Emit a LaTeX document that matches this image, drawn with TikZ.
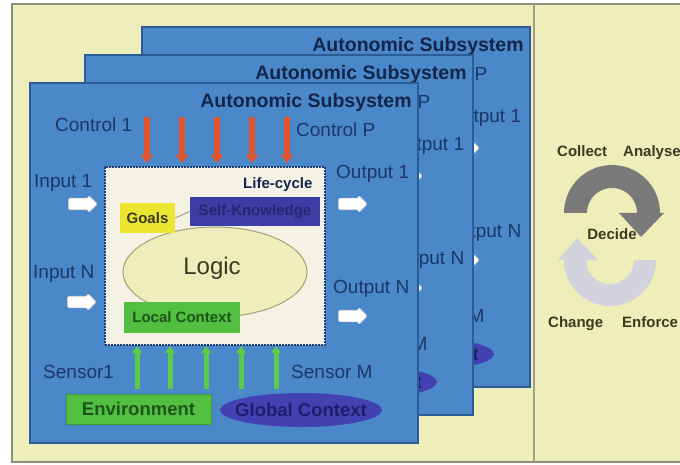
\documentclass[tikz,border=0pt]{standalone}
\usepackage{fontspec}
\setmainfont{Liberation Sans}
\usetikzlibrary{arrows.meta,shapes.arrows,shapes.geometric}
\definecolor{bgY}{HTML}{EEEEBA}
\definecolor{frameG}{HTML}{8E8E7A}
\definecolor{panelB}{HTML}{4A88C9}
\definecolor{panelE}{HTML}{2C5C96}
\definecolor{navy}{HTML}{1B3768}
\definecolor{titleC}{HTML}{13254A}
\definecolor{redA}{HTML}{E0552E}
\definecolor{greenA}{HTML}{5CCB4A}
\definecolor{boxW}{HTML}{F4F2E4}
\definecolor{dotB}{HTML}{1F3F78}
\definecolor{skB}{HTML}{3D3DA6}
\definecolor{skT}{HTML}{26266E}
\definecolor{goalY}{HTML}{ECE633}
\definecolor{greenB}{HTML}{52BF40}
\definecolor{greenT}{HTML}{1C561C}
\definecolor{logicF}{HTML}{EEEEBC}
\definecolor{logicE}{HTML}{A3A276}
\definecolor{gcB}{HTML}{4242B2}
\definecolor{gcT}{HTML}{1E1E6C}
\definecolor{olive}{HTML}{3A3A22}
\definecolor{darkArc}{HTML}{7A7A7A}
\definecolor{lightArc}{HTML}{D3D3DD}
\tikzset{
  lbl/.style={font=\fontsize{19}{21}\selectfont, text=navy, inner sep=0pt, anchor=base west},
  ttl/.style={font=\bfseries\fontsize{19.5}{22}\selectfont, text=titleC, inner sep=0pt, anchor=base},
  ioarrow/.style={single arrow, fill=white, draw=gray!45, line width=0.6pt, minimum height=29pt,
    inner xsep=0pt, inner ysep=5.5pt, single arrow head extend=3pt, rounded corners=1.5pt},
  ctrlarrow/.style={draw=redA, line width=5.5pt, -{Triangle[width=12pt,length=8pt]}},
  sensarrow/.style={draw=greenA, line width=5pt, -{Triangle[width=10pt,length=7pt]}},
  lifebox/.style={rectangle, draw=dotB, line width=2.2pt, dash pattern=on 1.6pt off 1.4pt,
    fill=boxW, minimum width=220pt, minimum height=178pt, inner sep=0pt},
  inbox/.style={rectangle, inner sep=0pt, font=\bfseries\fontsize{15}{17}\selectfont},
  bigbox/.style={rectangle, inner sep=0pt, font=\bfseries\fontsize{18.5}{21}\selectfont},
  rlbl/.style={font=\bfseries\fontsize{15}{17}\selectfont, text=olive, inner sep=0pt, anchor=base west},
}
\newcommand\subsys[1]{%
  \fill[panelB] (30,83) rectangle (418,443);
  \node[ttl] (#1title) at (306,108) {Autonomic Subsystem};
  \node[lbl] (#1c1) at (55,132) {Control 1};
  \node[lbl] (#1cP) at (296,137) {Control P};
  \node[lbl] (#1i1) at (34,188) {Input 1};
  \node[lbl] (#1iN) at (33,278) {Input N};
  \node[lbl] (#1o1) at (336,179) {Output 1};
  \node[lbl] (#1oN) at (333,293) {Output N};
  \node[lbl] (#1s1) at (43,378) {Sensor1};
  \node[lbl] (#1sM) at (291,378) {Sensor M};
  \node[ioarrow] (#1ai1) at (80,204) {};
  \node[ioarrow] (#1aiN) at (79,302) {};
  \node[ioarrow] (#1ao1) at (350,204) {};
  \node[ioarrow] (#1aoN) at (350,316) {};
  \foreach \i/\xx in {1/147,2/182,3/217,4/252,5/287}{
    \coordinate (#1ct\i) at (\xx,117);
    \coordinate (#1cb\i) at (\xx,163);
    \draw[ctrlarrow] (#1ct\i) -- (#1cb\i);
  }
  \node[lifebox] (#1box) at (215,256) {};
  \node[inbox, anchor=base west, text=titleC] (#1lc) at (243,189) {Life-cycle};
  \node[ellipse, fill=logicF, draw=logicE, line width=1pt, minimum width=184pt,
        minimum height=90pt, inner sep=0pt] (#1logic) at (215,272) {};
  \node[font=\fontsize{24}{26}\selectfont, text=olive, inner sep=0pt, anchor=base] (#1logict) at (212,274) {Logic};
  \node[inbox, fill=goalY, text=olive, minimum width=55pt, minimum height=30pt] (#1goals) at (147.5,218) {Goals};
  \node[inbox, fill=skB, text=skT, minimum width=130pt, minimum height=29pt] (#1sk) at (255,211.5) {Self-Knowledge};
  \draw[logicE, line width=1pt] (#1goals.east) -- (#1sk.west);
  \node[inbox, fill=greenB, text=greenT, minimum width=116pt, minimum height=31pt] (#1loc) at (182,317.5) {Local Context};
  \foreach \i/\xx in {1/137,2/170,3/206,4/241,5/276}{
    \coordinate (#1sb\i) at (\xx,389);
    \coordinate (#1st\i) at (\xx,346);
    \draw[sensarrow] (#1sb\i) -- (#1st\i);
  }
  \node[bigbox, fill=greenB, draw=greenB!80!black, line width=0.6pt, text=greenT,
        minimum width=145pt, minimum height=30pt] (#1env) at (138.5,409) {Environment};
  \node[ellipse, fill=gcB, inner sep=0pt, minimum width=162pt, minimum height=34pt] (#1gc) at (301,410) {};
  \node[bigbox, text=gcT] (#1gct) at (#1gc) {Global Context};
}
\begin{document}
\begin{tikzpicture}[x=1pt,y=-1pt]
  \clip (0,0) rectangle (680,465);
  \fill[white] (0,0) rectangle (680,465);
  \fill[bgY] (12,4) rectangle (690,462);
  \draw[frameG, line width=2pt] (12,4) rectangle (690,462);
  \draw[frameG!85, line width=1.8pt] (534,4) -- (534,462);
  % back panel
  \begin{scope}[shift={(112,-56)}]
    \begin{scope}
      \clip (30,83) rectangle (418,443);
      \subsys{b}
    \end{scope}
    \draw[panelE, line width=1.2pt] (30,83) rectangle (418,443);
  \end{scope}
  % middle panel
  \begin{scope}[shift={(55,-28)}]
    \begin{scope}
      \clip (30,83) rectangle (418,443);
      \subsys{m}
    \end{scope}
    \draw[panelE, line width=1.2pt] (30,83) rectangle (418,443);
  \end{scope}
  % front panel
  \begin{scope}
    \begin{scope}
      \clip (30,83) rectangle (418,443);
      \subsys{f}
    \end{scope}
    \draw[panelE, line width=1.2pt] (30,83) rectangle (418,443);
  \end{scope}
  % right side cycle
  \fill[darkArc] plot[domain=180:360, samples=40] ({612+48*cos(\x)},{213+48*sin(\x)})
     -- (664,213) -- (641,237) -- (619,213)
     -- plot[domain=360:180, samples=40] ({612+25*cos(\x)},{213+25*sin(\x)}) -- cycle;
  \fill[lightArc] plot[domain=0:180, samples=40] ({610+46*cos(\x)},{260+46*sin(\x)})
     -- (558,260) -- (577,238) -- (598,260)
     -- plot[domain=180:0, samples=40] ({610+24*cos(\x)},{260+24*sin(\x)}) -- cycle;
  \node[rlbl] (collect) at (557,157) {Collect};
  \node[rlbl] (analyse) at (623,157) {Analyse};
  \node[rlbl, anchor=base] (decide) at (612,240) {Decide};
  \node[rlbl] (change) at (548,327) {Change};
  \node[rlbl] (enforce) at (622,327) {Enforce};
\end{tikzpicture}
\end{document}
